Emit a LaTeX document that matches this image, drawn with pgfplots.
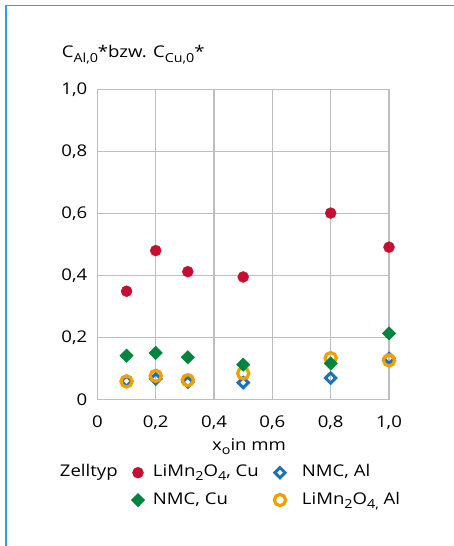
\documentclass[border=0pt]{standalone}
\usepackage{fontspec}
\setmainfont[FakeStretch=1.15]{Open Sans}
\usepackage{pgfplots}
\pgfplotsset{compat=1.18}

\definecolor{cuRed}{RGB}{197,14,49}
\definecolor{cuGreen}{RGB}{0,133,62}
\definecolor{alBlue}{RGB}{26,115,186}
\definecolor{alOrange}{RGB}{245,158,0}
\definecolor{frameBlue}{RGB}{41,163,226}
\definecolor{gridGray}{RGB}{190,190,190}

% subscripts set a little larger than \textsubscript
\newcommand\sub[1]{\raisebox{-4.2bp}{\fontsize{12.5}{13}\selectfont #1}}

\pgfplotsset{
  lmoCu/.style={only marks, mark=*, mark size=5.5bp, color=cuRed},
  nmcAl/.style={only marks, mark=square, mark size=3.6bp, color=alBlue,
    mark options={rotate=45, line width=3bp, solid}},
  lmoAl/.style={only marks, mark=o, mark size=5.6bp, color=alOrange,
    mark options={line width=3.2bp, solid}},
  nmcCu/.style={only marks, mark=square*, mark size=4.7bp, color=cuGreen,
    mark options={rotate=45, line width=0.5bp, solid}},
}

\begin{document}
\fontsize{16.2}{19}\selectfont
\begin{tikzpicture}[x=1bp,y=1bp]
\useasboundingbox (-97.4,-146.3) rectangle (356.6,399.7);
% panel frame
\draw[frameBlue, line width=1.6bp] (-91.6,-170) -- (-91.6,394.2) -- (380,394.2);
\node[anchor=base west, inner sep=0pt] at (-35.7,341.7)
  {C\sub{Al,0}*bzw. C\sub{Cu,0}*};
\begin{axis}[
  at={(0,0)}, anchor=south west, scale only axis,
  width=291.6bp, height=310bp,
  xmin=0, xmax=1, ymin=0, ymax=1,
  xtick={0,0.2,0.4,0.6,0.8,1},
  xticklabels={0,{0,2},{0,4},{0,6},{0,8},{1,0}},
  ytick={0,0.2,0.4,0.6,0.8,1},
  yticklabels={0,{0,2},{0,4},{0,6},{0,8},{1,0}},
  grid=major,
  major grid style={gridGray, line width=1.2bp},
  axis line style={gridGray, line width=1.2bp},
  tick style={draw=none},
  xticklabel style={anchor=north, inner sep=0pt, yshift=-16bp},
  yticklabel style={anchor=east, inner sep=0pt, xshift=-10bp},
  xlabel={x\sub{o}in mm},
  xlabel style={at={(axis description cs:0.52,0)}, anchor=base, inner sep=0pt, yshift=-50.3bp},
  clip=false,
  legend columns=3,
  legend cell align=left,
  legend image code/.code={%
    \path[draw=none, fill=none] (-7bp,-1bp) rectangle (7bp,1bp);
    \draw[#1] plot coordinates {(0bp,0bp)};},
  legend style={at={(axis description cs:-0.1283,-0.2097)}, anchor=north west,
    draw=none, fill=none, inner sep=0pt, outer sep=0pt, row sep=11.3bp,
    nodes={inner sep=0pt, text height=12bp, text depth=4bp}},
]
\addlegendimage{empty legend}
\addlegendentry{\makebox[71bp][l]{Zelltyp}}
\addlegendimage{lmoCu}
\addlegendentry{\makebox[128bp][l]{\hspace{8bp}LiMn\sub{2}O\sub{4}, Cu}}
\addlegendimage{nmcAl}
\addlegendentry{\hspace{15bp}NMC, Al}
\addlegendimage{empty legend}
\addlegendentry{\makebox[71bp][l]{}}
\addlegendimage{nmcCu}
\addlegendentry{\makebox[128bp][l]{\hspace{8bp}NMC, Cu}}
\addlegendimage{lmoAl}
\addlegendentry{\hspace{15bp}LiMn\sub{2}O\sub{4,}\ Al}

% LiMn2O4, Cu
\addplot[lmoCu, forget plot] coordinates {
  (0.1,0.350) (0.2,0.481) (0.31,0.413) (0.5,0.396) (0.8,0.602) (1.0,0.492)};
% NMC, Al
\addplot[nmcAl, forget plot] coordinates {
  (0.1,0.060) (0.2,0.067) (0.31,0.057) (0.5,0.055) (0.8,0.070) (1.0,0.133)};
% LiMn2O4, Al
\addplot[lmoAl, forget plot] coordinates {
  (0.1,0.059) (0.2,0.077) (0.31,0.063) (0.5,0.085) (0.8,0.134) (1.0,0.127)};
% NMC, Cu
\addplot[nmcCu, forget plot] coordinates {
  (0.1,0.142) (0.2,0.151) (0.31,0.137) (0.5,0.113) (0.8,0.117) (1.0,0.214)};
\end{axis}
\end{tikzpicture}
\end{document}
